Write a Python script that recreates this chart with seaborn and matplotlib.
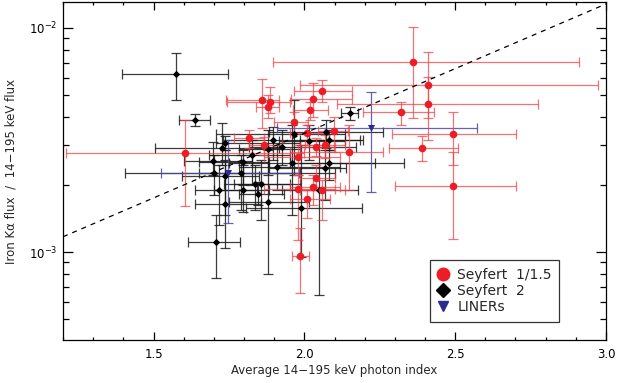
import matplotlib

matplotlib.use('Agg')
import matplotlib.pyplot as plt
import matplotlib.ticker as mticker
import numpy as np
import pandas as pd
import seaborn as sns

# Iron K-alpha / BAT flux ratio values are kept in units of 1e-3
RATIO_UNIT = 1e-3

# Seyfert 1/1.5
sy1_gamma = [1.606, 1.858, 1.887, 1.878, 2.028, 2.058, 2.020, 2.360, 2.410, 2.410,
             2.320, 2.492, 2.391, 2.492, 2.148, 2.097, 1.967, 2.010, 2.040, 2.067,
             1.978, 1.817, 1.867, 2.040, 1.978, 2.028, 2.060, 2.008, 1.987]
sy1_gamma_lo = [1.210, 1.740, 1.743, 1.840, 1.957, 1.967, 1.961, 1.897, 1.984, 2.107,
                2.194, 2.290, 2.281, 2.301, 1.951, 2.044, 1.901, 1.951, 1.984, 2.001,
                1.867, 1.767, 1.817, 1.984, 1.867, 1.951, 1.984, 1.951, 1.958]
sy1_gamma_hi = [2.000, 1.917, 1.954, 1.917, 2.157, 2.157, 2.077, 2.910, 2.973, 2.773,
                2.431, 2.701, 2.511, 2.701, 2.260, 2.144, 2.011, 2.067, 2.101, 2.134,
                2.117, 1.867, 1.927, 2.101, 2.101, 2.117, 2.134, 2.084, 2.017]
sy1_ratio = [2.76, 4.77, 4.69, 4.46, 4.81, 5.25, 4.30, 7.07, 5.57, 4.59,
             4.20, 3.35, 2.92, 1.98, 2.79, 3.47, 3.79, 3.39, 2.95, 3.00,
             2.65, 3.22, 3.00, 2.15, 1.92, 1.96, 1.89, 1.72, 0.965]
sy1_ratio_lo = [1.60, 3.58, 4.17, 3.96, 4.01, 4.67, 3.88, 3.96, 3.96, 3.16,
                3.69, 2.45, 2.55, 1.14, 1.89, 2.80, 3.36, 3.00, 2.68, 2.63,
                2.21, 2.91, 2.71, 1.89, 1.13, 1.62, 1.39, 1.42, 0.658]
sy1_ratio_hi = [3.88, 5.94, 5.47, 5.02, 5.68, 5.86, 4.67, 10.1, 7.79, 6.04,
                4.69, 4.23, 3.29, 2.80, 3.69, 4.02, 4.22, 3.69, 3.23, 3.33,
                3.00, 3.50, 3.26, 2.45, 2.21, 2.21, 2.10, 1.89, 1.28]

# Seyfert 2
sy2_gamma = [1.576, 1.637, 2.151, 1.697, 1.727, 1.736, 1.897, 1.967, 1.827, 1.797,
             1.908, 1.959, 2.017, 2.071, 2.081, 2.067, 1.878, 1.926, 1.736, 1.790,
             1.837, 1.856, 1.717, 1.796, 1.848, 1.737, 1.878, 1.989, 2.048, 1.708,
             2.081, 1.700]
sy2_gamma_lo = [1.395, 1.586, 2.123, 1.601, 1.506, 1.706, 1.731, 1.706, 1.684, 1.651,
                1.784, 1.751, 1.917, 1.884, 1.951, 1.884, 1.784, 1.817, 1.595, 1.651,
                1.734, 1.767, 1.637, 1.701, 1.784, 1.637, 1.751, 1.806, 1.927, 1.615,
                1.984, 1.406]
sy2_gamma_hi = [1.748, 1.686, 2.178, 1.827, 1.917, 1.984, 2.184, 2.134, 1.951, 1.884,
                2.117, 2.234, 2.134, 2.260, 2.330, 2.137, 1.984, 2.170, 1.851, 2.101,
                1.951, 1.984, 1.844, 1.884, 1.934, 1.856, 2.017, 2.190, 2.178, 1.787,
                2.195, 1.984]
sy2_ratio = [6.23, 3.88, 4.19, 2.54, 2.91, 3.08, 3.16, 3.38, 2.71, 2.51,
             2.39, 2.50, 3.13, 3.42, 2.50, 2.36, 2.88, 2.95, 2.18, 2.26,
             2.01, 2.01, 1.89, 1.90, 1.82, 1.64, 1.68, 1.58, 1.90, 1.11,
             3.15, 2.25]
sy2_ratio_lo = [4.77, 3.65, 3.88, 2.21, 2.45, 2.85, 2.57, 2.21, 1.99, 1.99,
                1.89, 1.46, 2.57, 2.91, 2.10, 1.71, 2.21, 2.45, 1.46, 1.54,
                1.54, 1.39, 1.32, 1.51, 1.62, 1.04, 0.80, 0.95, 0.643, 0.763,
                2.85, 1.80]
sy2_ratio_hi = [7.71, 4.12, 4.45, 3.11, 3.78, 3.29, 3.63, 4.77, 3.16, 2.85,
                3.00, 3.69, 3.69, 3.88, 2.85, 2.85, 3.50, 3.50, 2.85, 2.71,
                2.45, 2.57, 2.45, 2.45, 2.05, 2.57, 2.85, 3.00, 3.16, 1.46,
                3.50, 2.71]

# LINERs
liner_gamma = [1.748, 2.220]
liner_gamma_lo = [1.526, 1.908]
liner_gamma_hi = [1.982, 2.571]
liner_ratio = [2.26, 3.57]
liner_ratio_lo = [1.35, 1.86]
liner_ratio_hi = [3.16, 5.16]

# dashed reference line (end points)
line_gamma = [1.2, 3.0]
line_ratio = [1.17, 12.8]

class_names = ['Seyfert 1/1.5', 'Seyfert 2', 'LINERs']
legend_labels = ['Seyfert  1/1.5', 'Seyfert  2', 'LINERs']
class_colors = {'Seyfert 1/1.5': '#ee1c24', 'Seyfert 2': '#000000', 'LINERs': '#2b2b8f'}
bar_colors = {'Seyfert 1/1.5': '#f0444a', 'Seyfert 2': '#1a1a1a', 'LINERs': '#4a4aa0'}
class_markers = {'Seyfert 1/1.5': 'o', 'Seyfert 2': 'D', 'LINERs': 'v'}
class_sizes = {'Seyfert 1/1.5': 30, 'Seyfert 2': 14, 'LINERs': 26}


def build_frame():
    """Collect all sources into one table."""
    parts = []
    for name, g, glo, ghi, r, rlo, rhi in (
        ('Seyfert 1/1.5', sy1_gamma, sy1_gamma_lo, sy1_gamma_hi, sy1_ratio, sy1_ratio_lo, sy1_ratio_hi),
        ('Seyfert 2', sy2_gamma, sy2_gamma_lo, sy2_gamma_hi, sy2_ratio, sy2_ratio_lo, sy2_ratio_hi),
        ('LINERs', liner_gamma, liner_gamma_lo, liner_gamma_hi, liner_ratio, liner_ratio_lo, liner_ratio_hi),
    ):
        parts.append(pd.DataFrame({
            'gamma': g, 'gamma_lo': glo, 'gamma_hi': ghi,
            'ratio': np.array(r) * RATIO_UNIT,
            'ratio_lo': np.array(rlo) * RATIO_UNIT,
            'ratio_hi': np.array(rhi) * RATIO_UNIT,
            'type': name,
        }))
    return pd.concat(parts, ignore_index=True)


def main():
    sns.set_theme(style='ticks')
    plt.rcParams['font.family'] = ['DejaVu Sans']
    df = build_frame()

    fig = plt.figure(figsize=(6.27, 3.83), dpi=100)
    ax = fig.add_axes([0.1005, 0.1123, 0.866, 0.8825])
    ax.set_yscale('log')

    # draw Seyfert 2 first, then LINERs, then Seyfert 1 on top
    for name in ['Seyfert 2', 'LINERs', 'Seyfert 1/1.5']:
        sub = df[df['type'] == name]
        xerr = [sub['gamma'] - sub['gamma_lo'], sub['gamma_hi'] - sub['gamma']]
        yerr = [sub['ratio'] - sub['ratio_lo'], sub['ratio_hi'] - sub['ratio']]
        ax.errorbar(sub['gamma'], sub['ratio'], xerr=xerr, yerr=yerr, fmt='none',
                    ecolor=bar_colors[name], elinewidth=0.9, capsize=3.5, capthick=0.9,
                    alpha=0.75 if name == 'Seyfert 1/1.5' else 0.85, zorder=2)
        sns.scatterplot(data=sub, x='gamma', y='ratio', color=class_colors[name],
                        marker=class_markers[name], s=class_sizes[name], linewidth=0,
                        ax=ax, zorder=3, legend=False)

    ax.plot(line_gamma, np.array(line_ratio) * RATIO_UNIT, color='black',
            linestyle=(0, (4, 4)), linewidth=0.9, zorder=4)

    ax.set_xlim(1.2, 3.0)
    ax.set_ylim(4.05e-4, 1.306e-2)
    ax.xaxis.set_major_locator(mticker.FixedLocator([1.5, 2.0, 2.5, 3.0]))
    ax.xaxis.set_major_formatter(mticker.FormatStrFormatter('%.1f'))
    ax.xaxis.set_minor_locator(mticker.MultipleLocator(0.1))
    ax.yaxis.set_major_locator(mticker.LogLocator(base=10, numticks=10))
    ax.yaxis.set_minor_locator(mticker.LogLocator(base=10, subs=np.arange(2, 10), numticks=10))
    ax.yaxis.set_minor_formatter(mticker.NullFormatter())

    ax.tick_params(axis='both', which='both', direction='in', top=True, right=True,
                   colors='black', labelsize=8.5, width=0.9)
    ax.tick_params(axis='x', which='major', length=5.5, pad=6)
    ax.tick_params(axis='x', which='minor', length=2.5)
    ax.tick_params(axis='y', which='major', length=7, pad=4)
    ax.tick_params(axis='y', which='minor', length=4.5)
    for spine in ax.spines.values():
        spine.set_linewidth(0.9)
        spine.set_color('black')

    ax.set_xlabel('Average 14\u2212195 keV photon index', fontsize=8.5, labelpad=2)
    ax.set_ylabel('Iron K\u03b1 flux  /  14\u2212195 keV flux', fontsize=8.5, labelpad=8)

    handles = [
        plt.Line2D([], [], linestyle='none', marker=class_markers[n],
                   markerfacecolor=class_colors[n], markeredgecolor=class_colors[n],
                   markersize=9 if n == 'Seyfert 1/1.5' else 7)
        for n in class_names
    ]
    leg = ax.legend(handles, legend_labels, loc='lower right', bbox_to_anchor=(0.927, 0.034),
                    fontsize=10, frameon=True, fancybox=False, handlelength=0.8,
                    handletextpad=0.6, borderpad=0.55, labelspacing=0.15)
    leg.get_frame().set_edgecolor('black')
    leg.get_frame().set_linewidth(0.9)

    fig.savefig('out.png', dpi=100)
    plt.close(fig)


if __name__ == '__main__':
    main()
